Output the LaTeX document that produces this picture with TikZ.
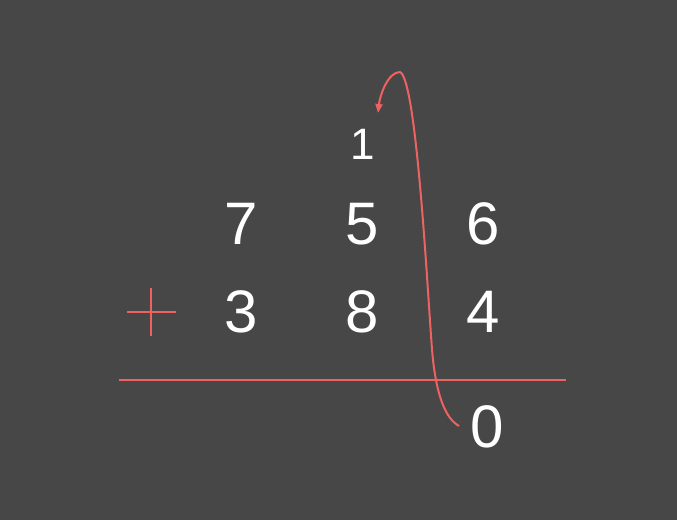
\documentclass[tikz,border=0pt]{standalone}
\usepackage{fontspec}
\setmainfont{Liberation Sans}
\usetikzlibrary{arrows.meta}
\definecolor{board}{RGB}{71,71,71}
\definecolor{chalkred}{RGB}{238,98,98}

\begin{document}
\begin{tikzpicture}[x=1pt,y=-1pt,
		digit/.style={text=white, inner sep=0pt, font=\fontsize{60}{60}\selectfont},
		carrydigit/.style={text=white, inner sep=0pt, font=\fontsize{44}{44}\selectfont},
		redline/.style={draw=chalkred, line width=2pt}]
		\fill[board] (0,0) rectangle (677,520);
		\useasboundingbox (0,0) rectangle (677,520);
		% the two rows
		\foreach \d/\x/\y/\name in {7/241/224/top1,5/362/224/top2,6/483/224/top3,3/241/312/bot1,8/362/312/bot2,4/483/312/bot3}
			\node[digit] (\name) at (\x,\y) {\d};
		\node[carrydigit] (one) at (363,144) {1};
		\node[digit] (zero) at (487,427) {0};
		% plus sign and sum line
		\draw[redline, line width=2.5pt] (127,312) -- (176,312);
		\draw[redline, line width=2.5pt] (151,288) -- (151,336);
		\draw[redline] (119,380) -- (566,380);
		% carry arrow
		\coordinate (from) at (459,426);
		\coordinate (peak) at (400,72);
		\coordinate (to) at (378,113);
		\draw[redline, -{Triangle[length=9pt,width=7pt]}] (from)
			.. controls (445,418) and (437,395) .. (433,360)
			.. controls (429,325) and (418,80) .. (peak)
			.. controls (388,72) and (380,95) .. (to);
\end{tikzpicture}
\end{document}
